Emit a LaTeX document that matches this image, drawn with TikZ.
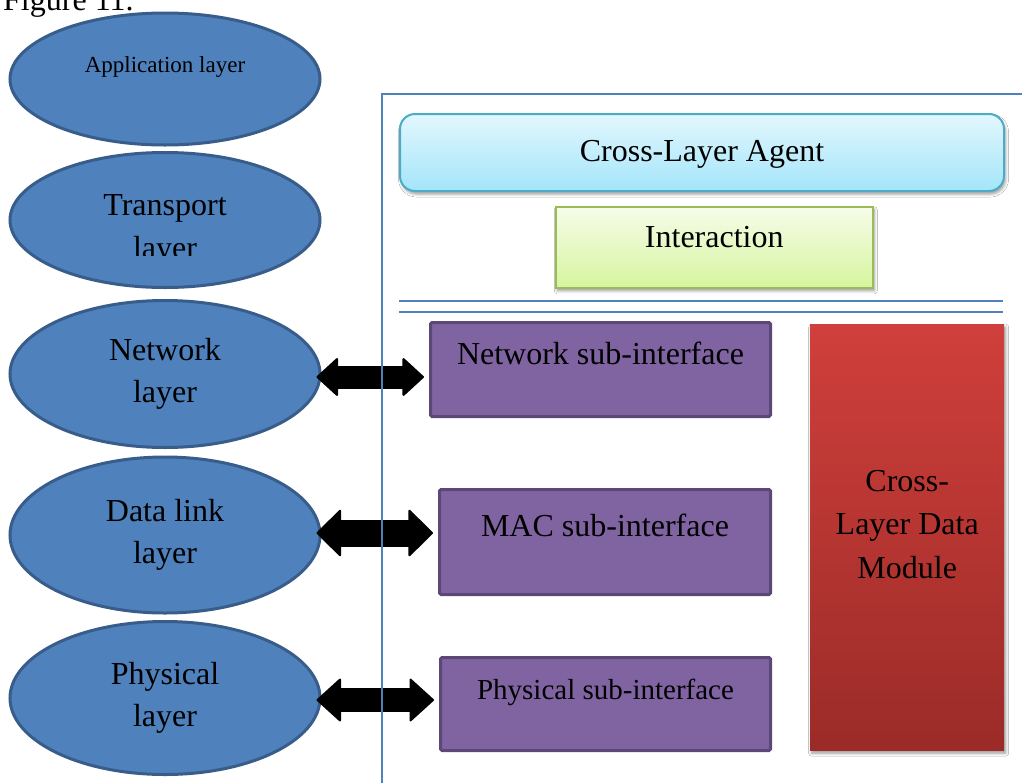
\documentclass[tikz,border=0pt]{standalone}
\usepackage{fontspec}
\setmainfont{Liberation Serif}
\usetikzlibrary{shapes.geometric,arrows.meta,shadows.blur}

\definecolor{layerfill}{HTML}{4F81BD}
\definecolor{layeredge}{HTML}{385D8A}
\definecolor{framecol}{HTML}{4F81BD}
\definecolor{subfill}{HTML}{8064A2}
\definecolor{subedge}{HTML}{5C4776}
\definecolor{agenttop}{HTML}{E3F7FE}
\definecolor{agentbot}{HTML}{A3E5F9}
\definecolor{agentedge}{HTML}{4BACC6}
\definecolor{intertop}{HTML}{F6FCEA}
\definecolor{interbot}{HTML}{D6F59E}
\definecolor{interedge}{HTML}{9BBB59}
\definecolor{datatop}{HTML}{D03F3B}
\definecolor{databot}{HTML}{9B2B28}

\begin{document}
\begin{tikzpicture}[x=1pt,y=-1pt,
  txt/.style={font=\fontsize{32}{42}\selectfont},
  layer/.style={ellipse, draw=layeredge, line width=3pt, fill=layerfill,
    inner sep=0pt, minimum width=310pt, align=center, txt},
  subif/.style={rectangle, draw=subedge, line width=3pt, fill=subfill,
    rounded corners=1.5pt, inner sep=0pt, anchor=north west, txt},
  softshadow/.style={blur shadow={shadow xshift=1.5pt, shadow yshift=-3pt,
    shadow blur radius=3pt, shadow opacity=40}},
  biarrow/.style n args={3}{line width=#1,
    {Triangle[length=#3,width=#2,line width=2pt,round]}-{Triangle[length=#3,width=#2,line width=2pt,round]},
    shorten <=-5pt, shorten >=5pt},
  frame/.style={draw=framecol, line width=1.5pt},
]
\useasboundingbox[fill=white] (0,0) rectangle (1022,782);

% caption line running above the drawing
\node[txt, anchor=base west, inner sep=0pt] (figlabel) at (3,10) {Figure 11.};

% protocol stack
\node[layer, minimum height=132pt, text height=16pt, text depth=30pt,
      font=\fontsize{23}{28}\selectfont] (app) at (165,79) {Application layer};
\node[layer, minimum height=135pt, text height=23pt, text depth=33pt]
      (trans) at (165,220) {Transport};
\begin{scope}
  \clip (0,150) rectangle (330,255);
  \node[txt, anchor=base, inner sep=0pt] (transl) at (165,258) {layer};
\end{scope}
\node[layer, minimum height=147pt] (net) at (165,374) {Network\\layer};
\node[layer, minimum height=156pt] (dl)  at (165,535) {Data link\\layer};
\node[layer, minimum height=153pt] (phy) at (165,698) {Physical\\layer};

% cross-layer agent
\node[rectangle, rounded corners=15pt, draw=agentedge, line width=2pt,
      top color=agenttop, bottom color=agentbot, anchor=north west,
      minimum width=604pt, minimum height=77pt, text height=47pt, text depth=30pt,
      inner sep=0pt, txt, softshadow] (agent) at (399,113) {Cross-Layer Agent};
\node[rectangle, draw=interedge, line width=1.5pt,
      top color=intertop, bottom color=interbot, anchor=north west,
      minimum width=317pt, minimum height=81pt, text height=41pt, text depth=40pt,
      inner sep=0pt, txt, softshadow] (inter) at (555,206) {Interaction};

\draw[frame] (399,301) -- (1003,301);
\draw[frame] (399,312) -- (1003,312);

% sub-interfaces
\node[subif, minimum width=340pt, minimum height=94pt, text height=42pt, text depth=52pt]
      (netsub) at (429,321) {Network sub-interface};
\node[subif, minimum width=331pt, minimum height=105pt, text height=47pt, text depth=58pt]
      (macsub) at (438,488) {MAC sub-interface};
\node[subif, minimum width=330pt, minimum height=93pt, text height=42pt, text depth=51pt,
      font=\fontsize{29}{36}\selectfont]
      (physub) at (439,656) {Physical sub-interface};

% data module
\node[rectangle, top color=datatop, bottom color=databot, anchor=north west,
      minimum width=194pt, minimum height=426pt, inner sep=0pt, softshadow]
      (dmod) at (810,324) {};
\node[align=center, inner sep=0pt, font=\fontsize{32}{43.5}\selectfont]
      (dmodt) at ([yshift=13pt]dmod.center) {Cross-\\Layer Data\\Module};

% layer <-> sub-interface links
\draw[biarrow={23pt}{40pt}{22pt}] ([yshift=-3pt]net.east) -- ([yshift=-3pt]net.east -| netsub.west);
\draw[biarrow={27pt}{49pt}{25pt}] ([yshift=2pt]dl.east)  -- ([yshift=2pt]dl.east -| macsub.west);
\draw[biarrow={24pt}{45pt}{25pt}] ([yshift=-2pt]phy.east) -- ([yshift=-2pt]phy.east -| physub.west);

% enclosing frame
\draw[frame] (382,790) -- (382,94) -- (1030,94);
\end{tikzpicture}
\end{document}
